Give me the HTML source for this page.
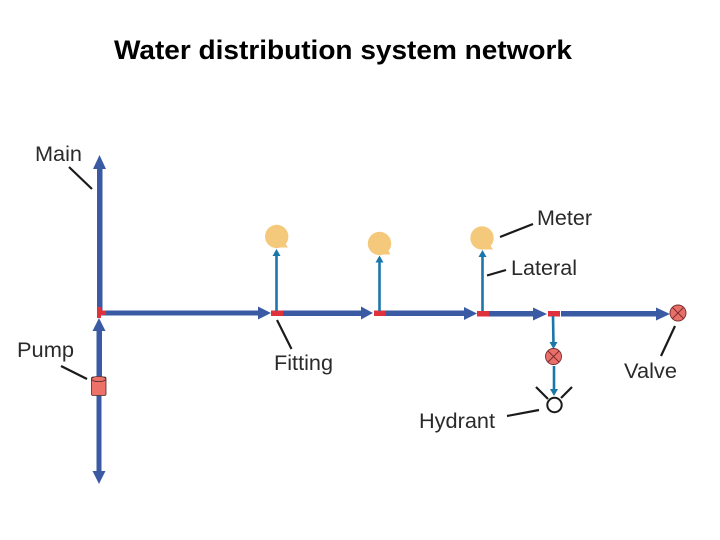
<!DOCTYPE html>
<html>
<head>
<meta charset="utf-8">
<style>
html,body{margin:0;padding:0;background:#fff;width:720px;height:540px;overflow:hidden}
svg{display:block}
text{font-family:"Liberation Sans",sans-serif}
</style>
</head>
<body>
<svg width="720" height="540" viewBox="0 0 720 540" xmlns="http://www.w3.org/2000/svg">
<rect width="720" height="540" fill="#fff"/>
<text x="114" y="59" font-size="26.670" font-weight="700" fill="#000" textLength="458" lengthAdjust="spacingAndGlyphs">Water distribution system network</text>

<!-- Main vertical -->
<g fill="#3a5ba4" stroke="none">
<rect x="97" y="168" width="5.500" height="145"/>
<polygon points="99.500,155 93,169 106,169"/>
<rect x="96.500" y="325" width="5.500" height="60"/>
<polygon points="99,318 92.500,331 105.500,331"/>
<rect x="96.500" y="395" width="5" height="80"/>
<polygon points="99,484 92.500,471 105.500,471"/>
<!-- horizontal -->
<rect x="100" y="310.500" width="165" height="5"/>
<polygon points="271,313 258,306.500 258,319.500"/>
<rect x="280" y="310.500" width="85" height="5.500"/>
<polygon points="373,313 361,306.500 361,319.500"/>
<rect x="385" y="310.500" width="83" height="5.500"/>
<polygon points="477,313.500 464,307 464,320"/>
<rect x="488" y="311" width="47" height="5.500"/>
<polygon points="547,314 533,307.500 533,320.500"/>
<rect x="561" y="311" width="98" height="5.500"/>
<polygon points="670,314 656,307.500 656,320.500"/>
</g>

<!-- fittings -->
<g fill="#e0323c">
<rect x="271" y="310.500" width="12" height="5.500"/>
<rect x="374" y="310.500" width="11.500" height="5.500"/>
<rect x="477" y="311" width="12" height="5.500"/>
<rect x="548" y="311" width="12" height="5.500"/>
<polygon points="97,307 101,307 101,310.500 106,310.500 106,315 101,315 101,318 97,318"/>
</g>

<!-- laterals -->
<g stroke="#1a76ab" stroke-width="2.600" fill="none">
<line x1="276.500" y1="311" x2="276.500" y2="254"/>
<line x1="379.500" y1="311" x2="379.500" y2="261"/>
<line x1="482.500" y1="311" x2="482.500" y2="254"/>
<line x1="553" y1="316" x2="553.500" y2="346"/>
<line x1="554" y1="366" x2="554" y2="392"/>
</g>
<g fill="#1a76ab">
<polygon points="276.500,249 272.500,256 280.500,256"/>
<polygon points="379.500,255.500 375.500,262.500 383.500,262.500"/>
<polygon points="482.500,250 478.500,257 486.500,257"/>
<polygon points="553.500,349 549.500,342 557.500,342"/>
<polygon points="554,396 550,389 558,389"/>
</g>

<!-- meters -->
<g fill="#f5c97c">
<circle cx="276.700" cy="236.500" r="11.700"/><polygon points="285,243 288,247.500 279,247.500"/>
<circle cx="379.500" cy="243.500" r="11.700"/><polygon points="388,250 390.500,254.500 382,254.500"/>
<circle cx="482" cy="238" r="11.700"/><polygon points="490,245 493,249.500 484,249.500"/>
</g>

<!-- pump -->
<rect x="91.500" y="377" width="14.500" height="18.500" rx="1.500" fill="#ec7168" stroke="#4a2a2a" stroke-width="0.800"/>
<ellipse cx="98.700" cy="379" rx="7.200" ry="2.600" fill="#ec7168" stroke="#4a2a2a" stroke-width="0.800"/>

<!-- valves -->
<g stroke="#7a2a2a" stroke-width="0.900" fill="#e8706a">
<circle cx="553.500" cy="356.500" r="8"/>
<line x1="548" y1="351" x2="559" y2="362"/>
<line x1="559" y1="351" x2="548" y2="362"/>
<circle cx="678" cy="313" r="8"/>
<line x1="672.500" y1="307.500" x2="683.500" y2="318.500"/>
<line x1="683.500" y1="307.500" x2="672.500" y2="318.500"/>
</g>

<!-- hydrant -->
<circle cx="554.500" cy="405" r="7.200" fill="#fff" stroke="#1a1a1a" stroke-width="2"/>
<g stroke="#1a1a1a" stroke-width="2.200" fill="none">
<line x1="536" y1="387" x2="548" y2="399"/>
<line x1="572" y1="387" x2="561" y2="398"/>
</g>

<!-- leader lines -->
<g stroke="#1a1a1a" stroke-width="2.200" fill="none">
<line x1="69" y1="167" x2="92" y2="189"/>
<line x1="61" y1="366" x2="87" y2="379"/>
<line x1="277" y1="320" x2="291.500" y2="349"/>
<line x1="500" y1="237" x2="533" y2="224"/>
<line x1="487" y1="275.500" x2="506" y2="270"/>
<line x1="507" y1="416" x2="539" y2="410"/>
<line x1="675" y1="326" x2="661" y2="356"/>
</g>

<!-- labels -->
<g fill="#2a2a2a" font-size="21">
<text x="35" y="161" textLength="47" lengthAdjust="spacingAndGlyphs">Main</text>
<text x="17" y="357" textLength="57" lengthAdjust="spacingAndGlyphs">Pump</text>
<text x="274" y="370" textLength="59" lengthAdjust="spacingAndGlyphs">Fitting</text>
<text x="537" y="225" textLength="55" lengthAdjust="spacingAndGlyphs">Meter</text>
<text x="511" y="275" textLength="66" lengthAdjust="spacingAndGlyphs">Lateral</text>
<text x="624" y="378" textLength="53" lengthAdjust="spacingAndGlyphs">Valve</text>
<text x="419" y="428" textLength="76" lengthAdjust="spacingAndGlyphs">Hydrant</text>
</g>
</svg>
</body>
</html>
